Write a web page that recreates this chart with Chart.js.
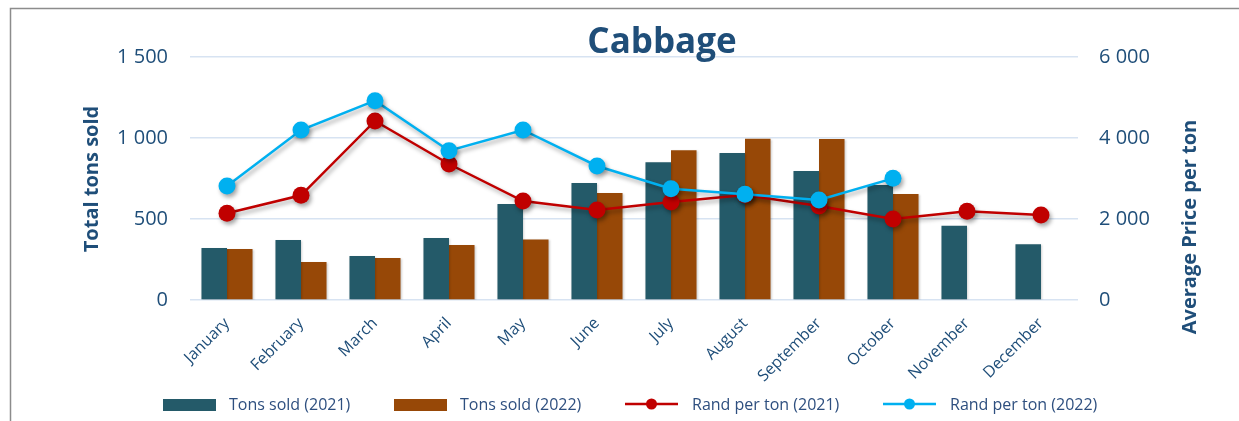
<!DOCTYPE html>
<html>
<head>
<meta charset="utf-8">
<script src="https://cdn.jsdelivr.net/npm/chart.js@4.4.1/dist/chart.umd.min.js"></script>
<style>
  html, body { margin: 0; padding: 0; background: #ffffff; }
  #wrap { width: 1239px; height: 421px; position: relative; }
</style>
</head>
<body>
<div id="wrap"><canvas id="c" width="1239" height="421"></canvas></div>
<script>
const categories = ["January","February","March","April","May","June","July","August","September","October","November","December"];
const tons2021 = [321, 370, 272, 383, 593, 722, 850, 907, 796, 710, 459, 344];
const tons2022 = [315, 235, 259, 340, 374, 660, 924, 996, 994, 654, null, null];
const rand2021 = [2140, 2585, 4420, 3358, 2444, 2222, 2420, 2590, 2320, 2000, 2190, 2100];
const rand2022 = [2815, 4198, 4922, 3687, 4198, 3309, 2749, 2609, 2469, 3004, null, null];
const seriesNames = ["Tons sold (2021)", "Tons sold (2022)", "Rand per ton (2021)", "Rand per ton (2022)"];
const chartTitle = "Cabbage";
const leftAxisTitle = "Total tons sold";
const rightAxisTitle = "Average Price per ton";

const TEXT = "#1F4E79";
const FONT = "'Open Sans', 'DejaVu Sans', sans-serif";
const C_BAR21 = "#245A69", C_BAR22 = "#974807", C_RED = "#C00000", C_BLUE = "#00B0F0";

function fmt(v) { return Number(v).toLocaleString('en-US').replace(/,/g, ' '); }

const shadowPlugin = {
  id: 'shadows',
  beforeDatasetDraw(chart, args) {
    const ctx = chart.ctx;
    ctx.save();
    const type = chart.data.datasets[args.index].type;
    if (type === 'line') {
      ctx.shadowColor = 'rgba(0,0,0,0.35)';
      ctx.shadowBlur = 4; ctx.shadowOffsetX = 2; ctx.shadowOffsetY = 3;
    } else {
      ctx.shadowColor = 'rgba(0,0,0,0.18)';
      ctx.shadowBlur = 2; ctx.shadowOffsetX = 1; ctx.shadowOffsetY = 1;
    }
  },
  afterDatasetDraw(chart) { chart.ctx.restore(); }
};

const decorPlugin = {
  id: 'decor',
  beforeDraw(chart) {
    const ctx = chart.ctx;
    ctx.save();
    ctx.fillStyle = '#ffffff';
    ctx.fillRect(0, 0, chart.width, chart.height);
    ctx.strokeStyle = '#8c8c8c';
    ctx.lineWidth = 1.5;
    ctx.beginPath();
    ctx.moveTo(10.5, chart.height);
    ctx.lineTo(10.5, 8.5);
    ctx.lineTo(chart.width, 8.5);
    ctx.stroke();
    ctx.restore();
  },
  afterDraw(chart) {
    const ctx = chart.ctx;
    const ds = chart.data.datasets;
    ctx.save();
    // title
    ctx.fillStyle = TEXT;
    ctx.font = "bold 35px " + FONT;
    ctx.textAlign = 'center';
    ctx.textBaseline = 'alphabetic';
    ctx.fillText(chartTitle, 662, 53);
    // axis titles
    ctx.font = "bold 20px " + FONT;
    ctx.textBaseline = 'middle';
    ctx.save();
    ctx.translate(92, 179);
    ctx.rotate(-Math.PI / 2);
    ctx.fillText(leftAxisTitle, 0, 0);
    ctx.restore();
    ctx.save();
    ctx.translate(1190, 227);
    ctx.rotate(-Math.PI / 2);
    ctx.fillText(rightAxisTitle, 0, 0);
    ctx.restore();
    // legend
    const items = [
      { x: 163, tx: 229, kind: 'box', color: ds[0].backgroundColor, label: ds[0].label },
      { x: 394, tx: 460, kind: 'box', color: ds[1].backgroundColor, label: ds[1].label },
      { x: 625, tx: 692, kind: 'line', color: ds[2].borderColor, label: ds[2].label },
      { x: 883, tx: 950, kind: 'line', color: ds[3].borderColor, label: ds[3].label }
    ];
    const ly = 405;
    ctx.font = "16px " + FONT;
    ctx.textAlign = 'left';
    ctx.textBaseline = 'middle';
    items.forEach(it => {
      if (it.kind === 'box') {
        ctx.fillStyle = it.color;
        ctx.fillRect(it.x, ly - 6, 53, 12);
      } else {
        ctx.strokeStyle = it.color;
        ctx.lineWidth = 2.5;
        ctx.beginPath();
        ctx.moveTo(it.x, ly - 1);
        ctx.lineTo(it.x + 53, ly - 1);
        ctx.stroke();
        ctx.fillStyle = it.color;
        ctx.beginPath();
        ctx.arc(it.x + 26.5, ly - 1, 5.5, 0, Math.PI * 2);
        ctx.fill();
      }
      ctx.fillStyle = "#2E4F7F";
      ctx.fillText(it.label, it.tx, ly);
    });
    ctx.restore();
  }
};

new Chart(document.getElementById('c'), {
  data: {
    labels: categories,
    datasets: [
      { type: 'bar', label: seriesNames[0], data: tons2021, backgroundColor: C_BAR21, yAxisID: 'y', order: 3,
        categoryPercentage: 0.69, barPercentage: 1.0 },
      { type: 'bar', label: seriesNames[1], data: tons2022, backgroundColor: C_BAR22, yAxisID: 'y', order: 3,
        categoryPercentage: 0.69, barPercentage: 1.0 },
      { type: 'line', label: seriesNames[2], data: rand2021, borderColor: C_RED, backgroundColor: C_RED,
        yAxisID: 'y1', order: 2, borderWidth: 2.5, pointRadius: 8.5, pointHoverRadius: 8.5,
        pointBackgroundColor: C_RED, pointBorderWidth: 0, tension: 0, spanGaps: false },
      { type: 'line', label: seriesNames[3], data: rand2022, borderColor: C_BLUE, backgroundColor: C_BLUE,
        yAxisID: 'y1', order: 1, borderWidth: 2.5, pointRadius: 8.5, pointHoverRadius: 8.5,
        pointBackgroundColor: C_BLUE, pointBorderWidth: 0, tension: 0, spanGaps: false }
    ]
  },
  options: {
    responsive: false,
    animation: false,
    events: [],
    layout: { padding: { top: 57, left: 0, right: 0, bottom: 0 } },
    plugins: { legend: { display: false }, title: { display: false }, tooltip: { enabled: false } },
    scales: {
      x: {
        offset: true,
        grid: { display: false, drawTicks: false },
        border: { display: false },
        ticks: { color: TEXT, font: { family: FONT, size: 16 }, maxRotation: 45, minRotation: 45, padding: 14, autoSkip: false },
        afterFit(scale) { scale.height = 121; }
      },
      y: {
        position: 'left', min: 0, max: 1500,
        grid: { color: '#D7E3F2', lineWidth: 1.6, drawTicks: false },
        border: { display: false },
        ticks: { stepSize: 500, color: TEXT, font: { family: FONT, size: 20 }, padding: 22, callback: v => fmt(v) },
        afterFit(scale) { scale.width = 190; }
      },
      y1: {
        position: 'right', min: 0, max: 6000,
        grid: { display: false, drawTicks: false },
        border: { display: false },
        ticks: { stepSize: 2000, color: TEXT, font: { family: FONT, size: 20 }, padding: 21, callback: v => fmt(v) },
        afterFit(scale) { scale.width = 161; }
      }
    }
  },
  plugins: [decorPlugin, shadowPlugin]
});
</script>
</body>
</html>
